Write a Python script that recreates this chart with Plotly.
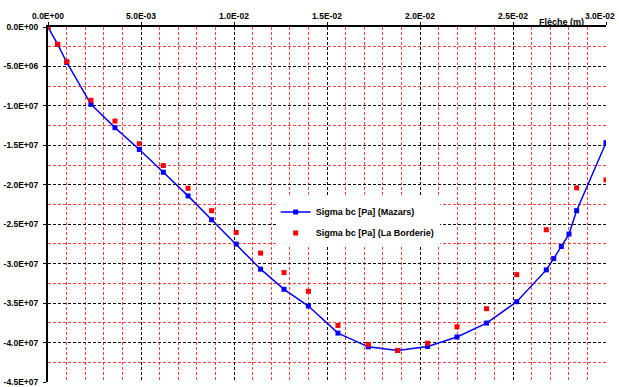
import plotly.graph_objects as go

# Deflection (m) and concrete stress sigma_bc (Pa)
fleche_mazars = [0, 0.00052, 0.00101, 0.00231, 0.0036, 0.00491, 0.0062, 0.00753,
                 0.0088, 0.01012, 0.01143, 0.01269, 0.014, 0.01559, 0.01722, 0.0188,
                 0.02041, 0.02199, 0.02358, 0.0252, 0.02679, 0.02719, 0.0276,
                 0.02801, 0.02842, 0.03]
sigma_mazars = [0, -2.2e6, -4.5e6, -9.80e6, -1.276e7, -1.552e7, -1.841e7, -2.141e7,
                -2.443e7, -2.752e7, -3.07e7, -3.325e7, -3.537e7, -3.88e7, -4.054e7,
                -4.10e7, -4.05e7, -3.93e7, -3.753e7, -3.482e7, -3.079e7, -2.935e7,
                -2.782e7, -2.625e7, -2.328e7, -1.467e7]

fleche_borderie = [0, 0.00052, 0.00101, 0.00231, 0.0036, 0.00491, 0.0062, 0.00753,
                   0.0088, 0.01012, 0.01143, 0.01269, 0.014, 0.01559, 0.01722, 0.0188,
                   0.02041, 0.02199, 0.02358, 0.0252, 0.02679, 0.02842, 0.03]
sigma_borderie = [0, -2.2e6, -4.4e6, -9.29e6, -1.192e7, -1.48e7, -1.756e7, -2.044e7,
                  -2.328e7, -2.604e7, -2.866e7, -3.113e7, -3.35e7, -3.783e7, -4.024e7,
                  -4.10e7, -4.008e7, -3.80e7, -3.571e7, -3.139e7, -2.57e7, -2.039e7,
                  -1.938e7]

x_ticks = [0, 0.005, 0.01, 0.015, 0.02, 0.025, 0.03]
y_ticks = [0, -5e6, -1e7, -1.5e7, -2e7, -2.5e7, -3e7, -3.5e7, -4e7, -4.5e7]
x_ticktext = [f"{v:.1E}" for v in x_ticks]
y_ticktext = [f"{v:.1E}" for v in y_ticks]

FONT = "Arial, Liberation Sans, sans-serif"

fig = go.Figure()
fig.add_trace(go.Scatter(
    x=fleche_mazars, y=sigma_mazars, mode="lines+markers",
    name="Sigma bc [Pa] (Mazars)", legendgroup="mazars",
    line=dict(color="#0000ff", width=1.5),
    marker=dict(symbol="square", size=5, color="#0000ff"),
))
fig.add_trace(go.Scatter(
    x=fleche_borderie, y=sigma_borderie, mode="markers",
    name="Sigma bc [Pa] (La Borderie)", legendgroup="borderie",
    marker=dict(symbol="square", size=5, color="#ff0000"),
))

grid_major = dict(showgrid=True, gridcolor="#000000", gridwidth=1, griddash="3px,2px")
grid_minor = dict(showgrid=True, gridcolor="rgba(255,0,0,0.75)", gridwidth=1,
                  griddash="3px,2px")

# the last top label is pulled inside the page so it stays whole
x_ticktext_drawn = x_ticktext[:-1] + [""]

fig.update_layout(
    width=619, height=387,
    margin=dict(l=48, r=13, t=27, b=5, autoexpand=False),
    paper_bgcolor="white", plot_bgcolor="white",
    font=dict(family=FONT, size=8.5, color="#000000", weight="bold"),
    showlegend=True,
    legend=dict(
        x=0.408, y=0.52, xanchor="left", yanchor="top",
        bgcolor="white", borderwidth=0,
        font=dict(family=FONT, size=9, color="#000000", weight="bold"),
        traceorder="grouped", tracegroupgap=2, itemwidth=30,
    ),
    xaxis=dict(
        side="top", range=[0, 0.03], automargin=False,
        tickvals=x_ticks, ticktext=x_ticktext_drawn, ticklabeloverflow="allow",
        ticks="outside", ticklen=3, tickcolor="#000000",
        showline=True, linecolor="#000000", linewidth=2,
        zeroline=False, **grid_major,
        minor=dict(dtick=0.001, **grid_minor),
    ),
    yaxis=dict(
        range=[-4.5e7, 0], automargin=False,
        tickvals=y_ticks, ticktext=y_ticktext, ticklabeloverflow="allow",
        ticks="outside", ticklen=3, tickcolor="#000000",
        showline=True, linecolor="#000000", linewidth=2,
        zeroline=False, **grid_major,
        minor=dict(dtick=2.5e6, **grid_minor),
        ticklabelstandoff=3,
    ),
    annotations=[
        dict(
            text="Flèche (m)", xref="paper", yref="paper", x=0.965, y=1.0,
            xanchor="right", yanchor="bottom", yshift=-2, showarrow=False,
            font=dict(family=FONT, size=9, color="#000000", weight="bold"),
        ),
        dict(
            text=x_ticktext[-1], xref="x", yref="paper", x=x_ticks[-1], y=1.0,
            xanchor="right", yanchor="bottom", xshift=11, yshift=4, showarrow=False,
            font=dict(family=FONT, size=8.5, color="#000000", weight="bold"),
        ),
    ],
)

fig.write_html("out.html")
